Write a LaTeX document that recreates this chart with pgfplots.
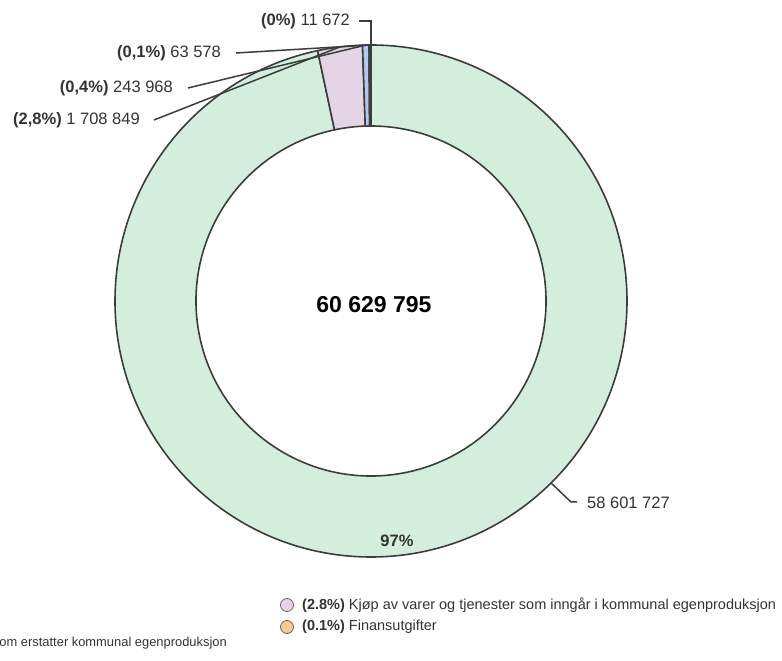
\documentclass[border=0pt]{standalone}
\usepackage{pgfplots}
\pgfplotsset{compat=1.18}
\usepackage{pgfplotstable}
\usetikzlibrary{calc}
\usepackage{fontspec}
\setmainfont{Liberation Sans}

\definecolor{sliceGreen}{RGB}{212,238,222}
\definecolor{sliceLav}{RGB}{228,212,230}
\definecolor{sliceBlue}{RGB}{178,200,236}
\definecolor{sliceOrange}{RGB}{246,202,142}
\definecolor{sliceDark}{RGB}{44,72,104}
\definecolor{edge}{RGB}{60,60,60}
\definecolor{txt}{RGB}{51,51,51}

\tikzset{
  lbl/.style={font=\fontsize{16.5}{19}\selectfont, text=txt, inner sep=0pt},
  lead/.style={draw=edge, line width=1.5pt},
  leg/.style={font=\fontsize{14.5}{16}\selectfont, text=txt, inner sep=0pt},
}

% slice values, clockwise from twelve o'clock
\pgfplotstableread{
value
58601727
1708849
243968
63578
11672
}\slicedata

% ring geometry (pt): centre, outer and inner radius
\def\cx{371}\def\cy{360}\def\Ro{256}\def\Ri{175}

\newcommand\ringslice[3]{%
  \filldraw[fill=#3, draw=edge, line width=1.6pt, line join=round]
    ($(axis cs:\cx,\cy)+(#1:\Ro)$) arc[start angle=#1, end angle=#2, radius=\Ro]
    -- ($(axis cs:\cx,\cy)+(#2:\Ri)$) arc[start angle=#2, end angle=#1, radius=\Ri] -- cycle;}

\begin{document}
\pgfplotstablegetelem{0}{value}\of\slicedata\edef\vA{\pgfplotsretval}%
\pgfplotstablegetelem{1}{value}\of\slicedata\edef\vB{\pgfplotsretval}%
\pgfplotstablegetelem{2}{value}\of\slicedata\edef\vC{\pgfplotsretval}%
\pgfplotstablegetelem{3}{value}\of\slicedata\edef\vD{\pgfplotsretval}%
\pgfplotstablegetelem{4}{value}\of\slicedata\edef\vE{\pgfplotsretval}%
\edef\total{\fpeval{\vA+\vB+\vC+\vD+\vE}}%
\edef\aA{90}%
\edef\aB{\fpeval{90-360*(\vA)/\total}}%
\edef\aC{\fpeval{90-360*(\vA+\vB)/\total}}%
\edef\aD{\fpeval{90-360*(\vA+\vB+\vC)/\total}}%
\edef\aE{\fpeval{90-360*(\vA+\vB+\vC+\vD)/\total}}%
\edef\aF{-270}%
\edef\mB{\fpeval{(\aB+\aC)/2}}%
\edef\mC{\fpeval{(\aC+\aD)/2}}%
\edef\mD{\fpeval{(\aD+\aE)/2}}%
\edef\mE{\fpeval{(\aE+\aF)/2}}%
\begin{tikzpicture}
\begin{axis}[
  x=1pt, y=1pt,
  xmin=0, xmax=782, ymin=0, ymax=661,
  enlargelimits=false,
  hide axis,
  clip=true,
  at={(0,0)}, anchor=south west,
]
% ring slices
\ringslice{\aA}{\aB}{sliceGreen}
\ringslice{\aB}{\aC}{sliceLav}
\ringslice{\aC}{\aD}{sliceBlue}
\ringslice{\aD}{\aE}{sliceOrange}
\ringslice{\aE}{\aF}{sliceDark}

% connectors
\draw[lead] (axis cs:359,640) -| ($(axis cs:\cx,\cy)+(\mE:\Ro)$);
\draw[lead] (axis cs:236,608) -- ($(axis cs:\cx,\cy)+(\mD:\Ro)$);
\draw[lead] (axis cs:188,573) -- ($(axis cs:\cx,\cy)+(\mC:\Ro)$);
\draw[lead] (axis cs:154,541) -- ($(axis cs:\cx,\cy)+(\mB:\Ro)$);
\draw[lead] ($(axis cs:\cx,\cy)+(-45.3:\Ro)$) -- (axis cs:571,159) -- (axis cs:577,159);

% value labels
\node[lbl, anchor=east] at (axis cs:350,640) {\textbf{(0\%)} 11 672};
\node[lbl, anchor=east] at (axis cs:221,608) {\textbf{(0,1\%)} 63 578};
\node[lbl, anchor=east] at (axis cs:173,573) {\textbf{(0,4\%)} 243 968};
\node[lbl, anchor=east] at (axis cs:140,541) {\textbf{(2,8\%)} 1 708 849};
\node[lbl, anchor=west] at (axis cs:587,158) {58 601 727};
\node[lbl] at (axis cs:397,120) {\textbf{97\%}};
\node[inner sep=0pt, text=black, font=\fontsize{23}{26}\selectfont\bfseries] at (axis cs:374,356) {60 629 795};

% legend
\draw[fill=sliceLav, draw=gray!80!black, line width=0.8pt] (axis cs:287,56) circle[radius=6.5];
\node[leg, anchor=west] at (axis cs:302,56) {\textbf{(2.8\%)} Kjøp av varer og tjenester som inngår i kommunal egenproduksjon};
\draw[fill=sliceOrange, draw=gray!80!black, line width=0.8pt] (axis cs:287,34) circle[radius=6.5];
\node[leg, anchor=west] at (axis cs:302,34) {\textbf{(0.1\%)} Finansutgifter};
\node[leg, font=\fontsize{12.9}{15}\selectfont, anchor=east] at (axis cs:227,18) {\textbf{(0.4\%)} Kjøp av varer og tjenester som erstatter kommunal egenproduksjon};
\end{axis}
\pgfresetboundingbox
\path[use as bounding box] (current axis.south west) rectangle (current axis.north east);
\end{tikzpicture}
\end{document}
